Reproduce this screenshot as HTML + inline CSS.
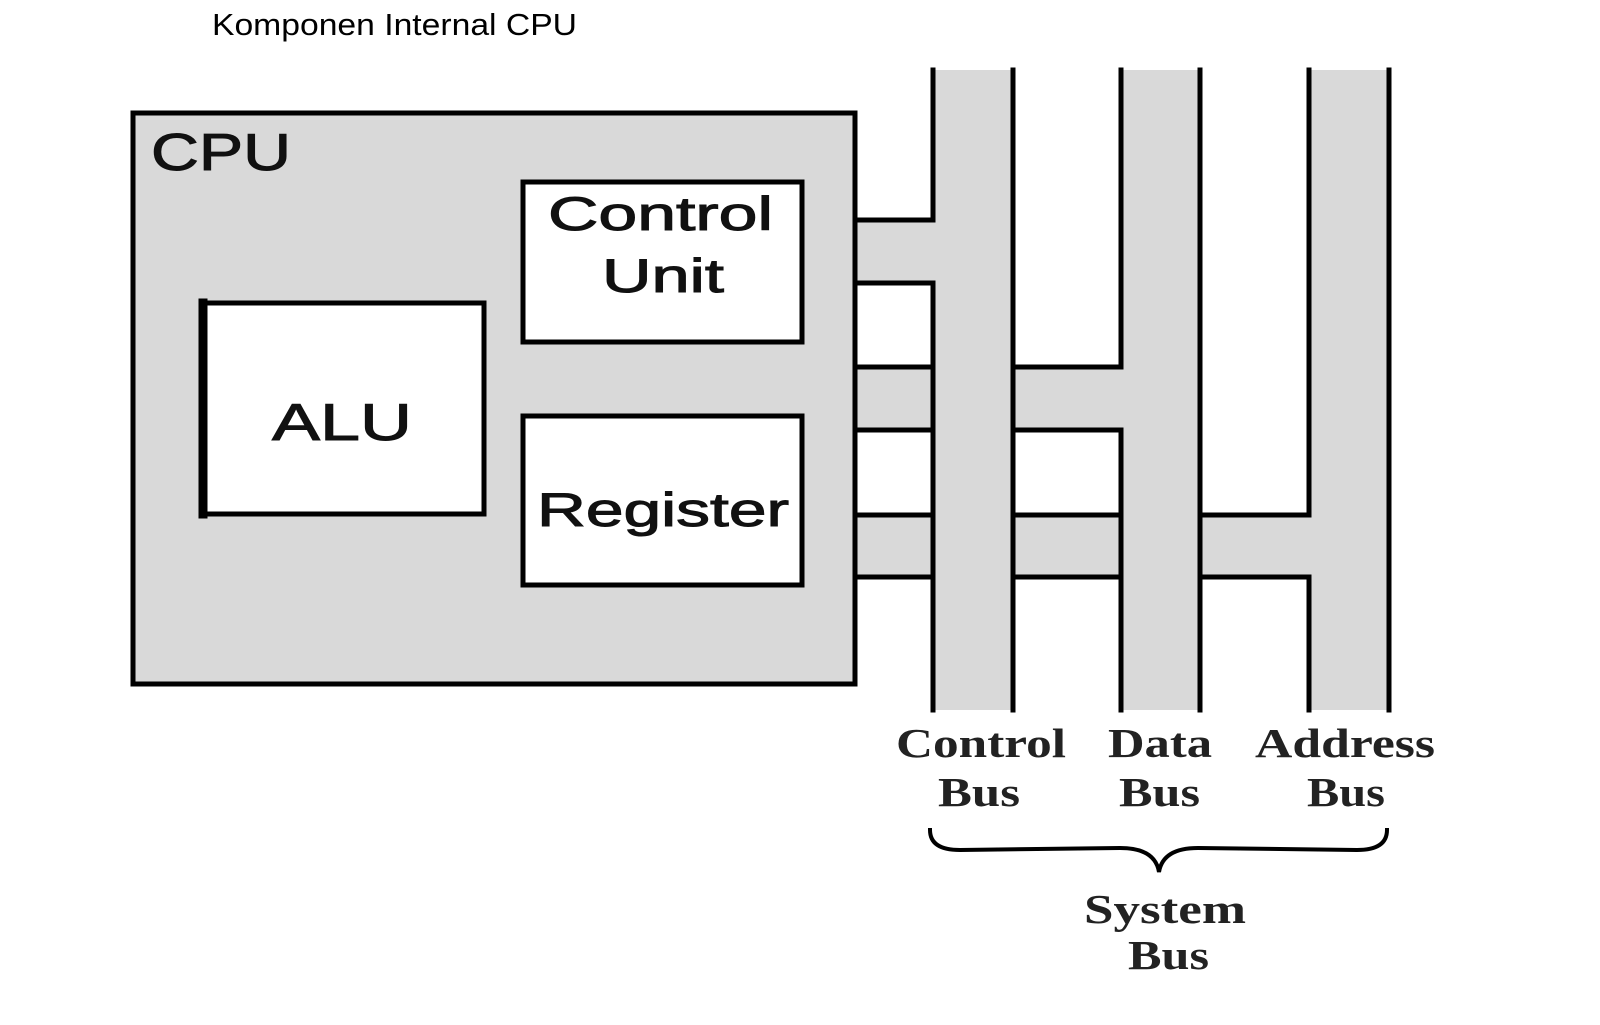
<!DOCTYPE html>
<html><head><meta charset="utf-8"><style>
html,body{margin:0;padding:0;background:#fff;width:1600px;height:1025px;overflow:hidden}
svg{display:block}
</style></head><body>
<svg width="1600" height="1025" viewBox="0 0 1600 1025" xmlns="http://www.w3.org/2000/svg">
<text x="212" y="35" font-family="Liberation Sans, sans-serif" font-size="31" fill="#000" textLength="365" lengthAdjust="spacingAndGlyphs">Komponen Internal CPU</text>
<g fill="#d9d9d9" stroke="none">
<rect x="133" y="113" width="722" height="571"/>
<rect x="933" y="70" width="80" height="640"/>
<rect x="1121" y="70" width="79" height="640"/>
<rect x="1309" y="70" width="80" height="640"/>
<rect x="855" y="220" width="78" height="63"/>
<rect x="855" y="367" width="266" height="63"/>
<rect x="855" y="515" width="454" height="62"/>
</g>
<g stroke="#000" stroke-width="5" fill="none" stroke-linecap="square">
<rect x="133" y="113" width="722" height="571"/>
<rect x="523" y="182" width="279" height="160" fill="#fff"/>
<rect x="523" y="416" width="279" height="169" fill="#fff"/>
<rect x="201" y="303" width="283" height="211" fill="#fff"/>
<line x1="203" y1="303" x2="203" y2="514" stroke-width="9"/>
<polyline points="933,70 933,220 855,220"/>
<polyline points="855,283 933,283 933,710"/>
<line x1="1013" y1="70" x2="1013" y2="710"/>
<polyline points="1121,70 1121,367 1013,367"/>
<polyline points="1013,430 1121,430 1121,710"/>
<line x1="1200" y1="70" x2="1200" y2="710"/>
<polyline points="1309,70 1309,515 1200,515"/>
<polyline points="1200,577 1309,577 1309,710"/>
<line x1="1389" y1="70" x2="1389" y2="710"/>
<line x1="855" y1="367" x2="933" y2="367"/>
<line x1="855" y1="430" x2="933" y2="430"/>
<line x1="855" y1="515" x2="933" y2="515"/>
<line x1="855" y1="577" x2="933" y2="577"/>
<line x1="1013" y1="515" x2="1121" y2="515"/>
<line x1="1013" y1="577" x2="1121" y2="577"/>
<path d="M930,830 Q930,850 960,850 L1120,848 Q1155,848 1159,872 Q1163,848 1198,848 L1357,850 Q1387,850 1387,830" stroke-width="4"/>
</g>
<g font-family="Liberation Sans, sans-serif" fill="#111" stroke="#111" stroke-width="1">
<text x="151" y="170" font-size="52" textLength="140" lengthAdjust="spacingAndGlyphs">CPU</text>
<text x="548" y="230" font-size="47" textLength="225" lengthAdjust="spacingAndGlyphs">Control</text>
<text x="602" y="292" font-size="47" textLength="122" lengthAdjust="spacingAndGlyphs">Unit</text>
<text x="272" y="440" font-size="52" textLength="140" lengthAdjust="spacingAndGlyphs">ALU</text>
<text x="537" y="526" font-size="47" textLength="252" lengthAdjust="spacingAndGlyphs">Register</text>
</g>
<g font-family="Liberation Serif, serif" font-weight="bold" font-size="41" fill="#222">
<text x="896" y="757" textLength="170" lengthAdjust="spacingAndGlyphs">Control</text>
<text x="938" y="806" textLength="82" lengthAdjust="spacingAndGlyphs">Bus</text>
<text x="1108" y="757" textLength="104" lengthAdjust="spacingAndGlyphs">Data</text>
<text x="1119" y="806" textLength="81" lengthAdjust="spacingAndGlyphs">Bus</text>
<text x="1255" y="757" textLength="180" lengthAdjust="spacingAndGlyphs">Address</text>
<text x="1307" y="806" textLength="78" lengthAdjust="spacingAndGlyphs">Bus</text>
<text x="1084" y="923" textLength="162" lengthAdjust="spacingAndGlyphs">System</text>
<text x="1128" y="969" textLength="81" lengthAdjust="spacingAndGlyphs">Bus</text>
</g>
</svg>
</body></html>
